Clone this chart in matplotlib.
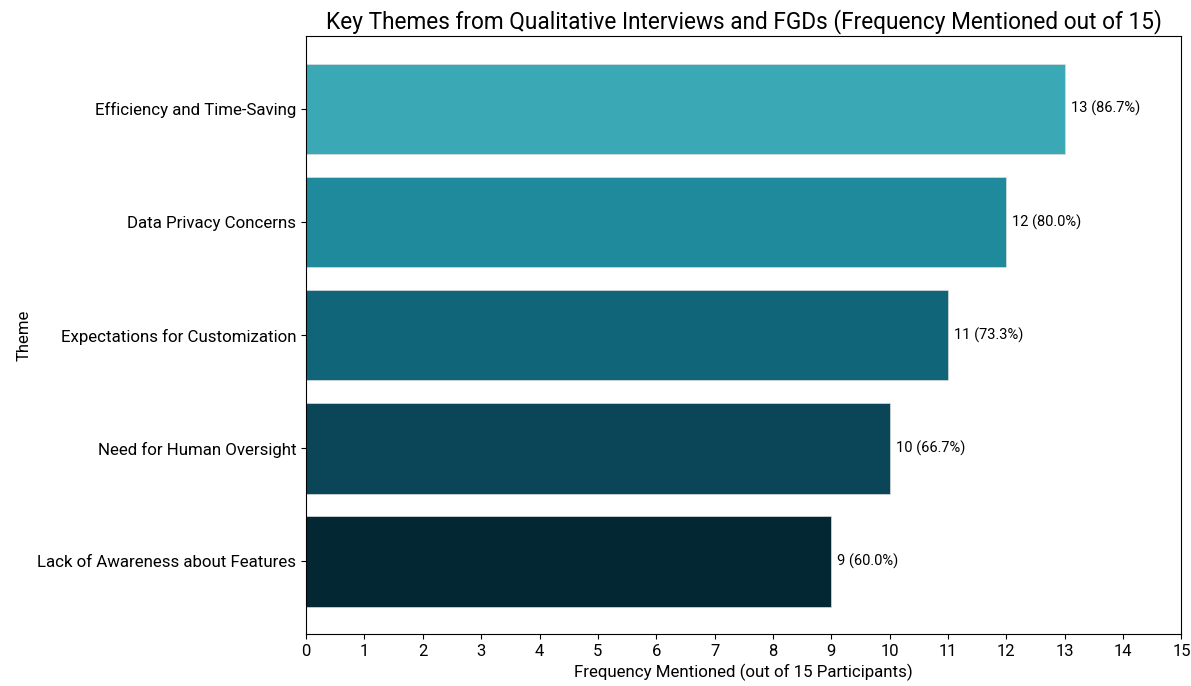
import matplotlib
matplotlib.use("Agg")
import matplotlib.pyplot as plt

plt.rcParams['font.family'] = ['Roboto', 'DejaVu Sans']

themes = ["Lack of Awareness about Features", "Need for Human Oversight",
          "Expectations for Customization", "Data Privacy Concerns",
          "Efficiency and Time-Saving"]
counts = [9, 10, 11, 12, 13]
total = 15
colors = ["#042833", "#0a4658", "#106678", "#1e8a9c", "#3aa8b5"]

fig, ax = plt.subplots(figsize=(11.91, 6.86), dpi=100)
bars = ax.barh(themes, counts, color=colors, height=0.8, edgecolor="#dddddd", linewidth=0.5)

# value + percentage labels at bar ends
for b, c in zip(bars, counts):
    ax.text(b.get_width() + 0.1, b.get_y() + b.get_height() / 2,
            f"{c} ({c / total * 100:.1f}%)", va="center", ha="left", fontsize=10.5)

ax.set_xlim(0, 15)
ax.set_xticks(range(0, 16))
ax.tick_params(labelsize=12)
ax.tick_params(axis="y", labelsize=12.2)
ax.set_xlabel("Frequency Mentioned (out of 15 Participants)", fontsize=12.2)
ax.set_ylabel("Theme", fontsize=12)
ax.set_title("Key Themes from Qualitative Interviews and FGDs (Frequency Mentioned out of 15)", fontsize=16.3)

fig.subplots_adjust(left=0.257, right=0.992, top=0.947, bottom=0.076)
fig.savefig("out.png", dpi=100)
